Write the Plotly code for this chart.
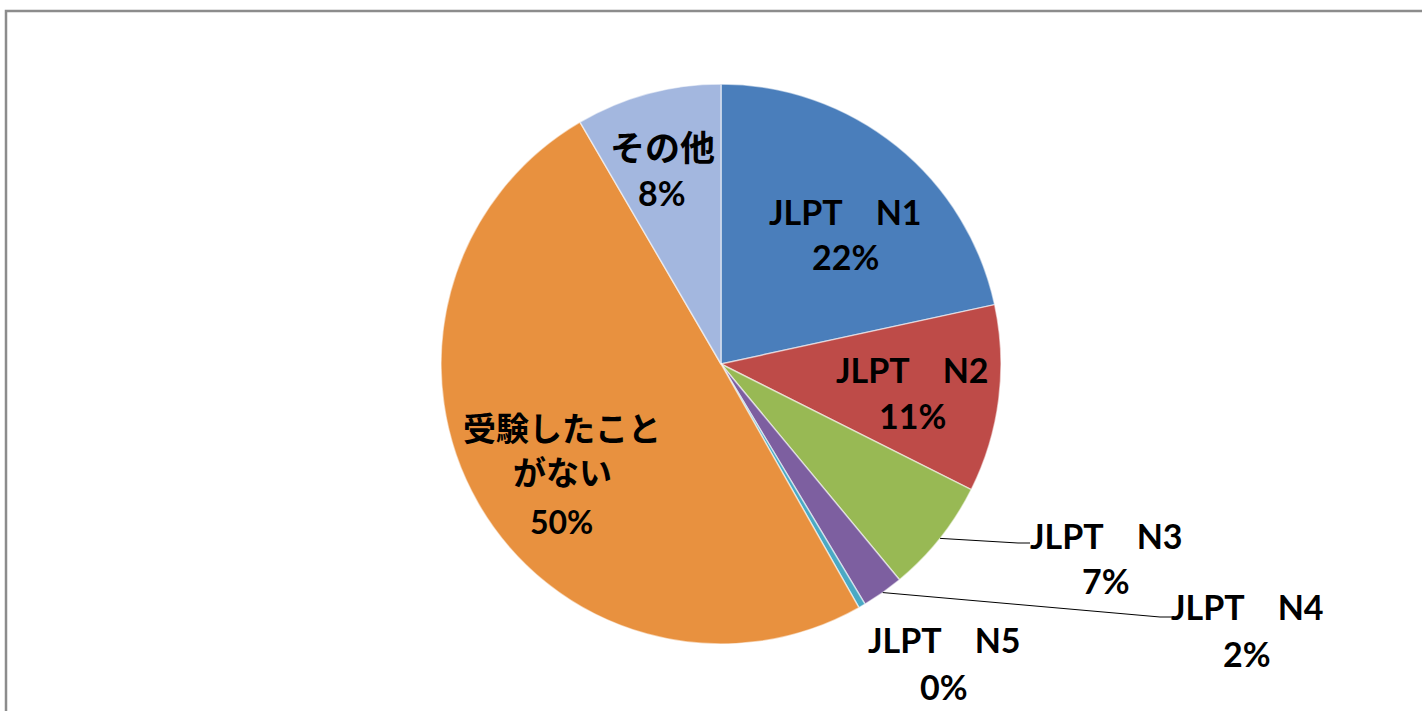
import math
import plotly.graph_objects as go

# ---- data ----
names = ["JLPT　N1", "JLPT　N2", "JLPT　N3", "JLPT　N4", "JLPT　N5", "受験したことがない", "その他"]
values = [21.6, 10.8, 6.6, 2.4, 0.4, 49.8, 8.4]
colors = ["#4a7ebb", "#be4b48", "#98b954", "#7d5fa0", "#4aa9c4", "#e8913f", "#a3b7df"]

W, H = 1422, 711
CX, CY, R = 721, 364, 280  # pie centre / radius in pixels


def px(x):
    return x / W


def py(y):
    return 1 - y / H


fig = go.Figure(go.Pie(
    labels=names, values=values, sort=False, direction="clockwise", rotation=0,
    marker=dict(colors=colors, line=dict(color="rgba(255,255,255,0.55)", width=1.5)),
    textinfo="none", hoverinfo="label+percent", showlegend=False,
    domain=dict(x=[px(CX - R), px(CX + R)], y=[py(CY + R), py(CY - R)]),
))

LAT = "Lato, 'Noto Sans CJK JP', sans-serif"
CJK = "'Noto Sans CJK JP', sans-serif"
total = sum(values)
pct = [f"{v / total * 100:.0f}%" for v in values]

ann = []


def add(text, x, y, size=34, family=LAT):
    ann.append(dict(text=f"<b>{text}</b>", x=px(x), y=py(y), xref="paper", yref="paper",
                    showarrow=False, xanchor="center", yanchor="middle",
                    font=dict(size=size, family=family, color="black")))


# label positions (pixel centres of each text line)
add(names[0], 845, 211); add(pct[0], 845, 257)
add(names[1], 912, 369); add(pct[1], 912, 415)
add(names[2], 1106, 535); add(pct[2], 1106, 580)
add(names[3], 1247, 606); add(pct[3], 1247, 653)
add(names[4], 944, 639); add(pct[4], 944, 686)
add("受験したこと", 562, 427, size=33, family=CJK)
add("がない", 562, 471, size=33, family=CJK)
add(pct[5], 561, 521, size=32)
add("その他", 662, 145, size=35, family=CJK)
add(pct[6], 662, 192)

# leader lines from slice edge (mid-angle) to outside labels
cum = [sum(values[:i]) for i in range(len(values))]
shapes = []
for idx, (bend, end) in {2: ((1018, 543), (1030, 543)), 3: ((1160, 617), (1172, 617))}.items():
    mid = (cum[idx] + values[idx] / 2) / total * 2 * math.pi
    sx, sy = CX + R * math.sin(mid), CY - R * math.cos(mid)
    for (x0, y0), (x1, y1) in [((sx, sy), bend), (bend, end)]:
        shapes.append(dict(type="line", xref="paper", yref="paper",
                           x0=px(x0), y0=py(y0), x1=px(x1), y1=py(y1),
                           line=dict(color="black", width=1)))

# outer chart frame
shapes.append(dict(type="rect", xref="paper", yref="paper",
                   x0=px(6), y0=py(730), x1=px(1440), y1=py(11),
                   line=dict(color="#8c8c8c", width=2.5), fillcolor="rgba(0,0,0,0)", layer="below"))

fig.update_layout(width=W, height=H, margin=dict(l=0, r=0, t=0, b=0),
                  paper_bgcolor="white", plot_bgcolor="white",
                  annotations=ann, shapes=shapes)

fig.write_html("out.html", config={"displayModeBar": False},
               post_script="document.body.style.margin='0';document.body.style.overflow='hidden';")
